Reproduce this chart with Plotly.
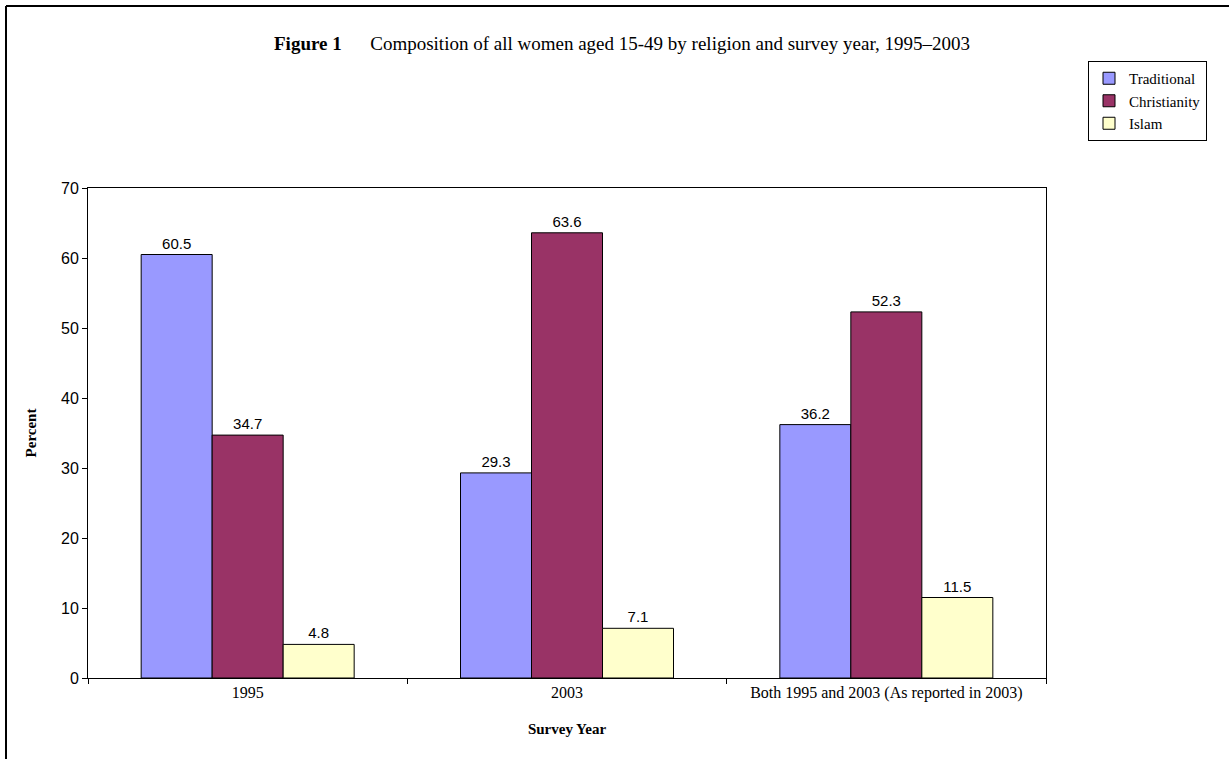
import plotly.graph_objects as go

categories = ["1995", "2003", "Both 1995 and 2003 (As reported in 2003)"]
traditional = [60.5, 29.3, 36.2]
christianity = [34.7, 63.6, 52.3]
islam = [4.8, 7.1, 11.5]
series_names = ["Traditional", "Christianity", "Islam"]
colors = ["#9999FF", "#993366", "#FFFFCC"]

W, H = 1229, 759
L, R, T, B = 88, 1046, 188, 678

def px(x):
    return (x - L) / (R - L)

def py(y):
    return (B - y) / (B - T)

fig = go.Figure()
for name, vals, col in zip(series_names, [traditional, christianity, islam], colors):
    fig.add_trace(go.Bar(
        name=name, x=categories, y=vals,
        marker=dict(color=col, line=dict(color="black", width=1)),
        text=[f"{v:.1f}" for v in vals], textposition="outside",
        textfont=dict(family="Arial", size=15, color="black"),
        cliponaxis=False,
    ))

fig.update_layout(
    width=W, height=H,
    margin=dict(l=L, r=W - R, t=T, b=H - B),
    paper_bgcolor="white", plot_bgcolor="white",
    barmode="group", bargap=0.333, bargroupgap=0,
    showlegend=True,
    legend=dict(
        x=px(1088), y=py(61), xanchor="left", yanchor="top",
        bordercolor="black", borderwidth=1, bgcolor="white",
        font=dict(family="Liberation Serif", size=15, color="black"),
        itemwidth=30, tracegroupgap=0,
    ),
    font=dict(family="Arial", color="black"),
    xaxis=dict(
        showline=True, linecolor="black", linewidth=1, mirror=True,
        ticks="outside", ticklen=5, tickcolor="black", tickson="boundaries",
        tickfont=dict(family="Liberation Serif", size=16, color="black"),
        title=dict(text="<b>Survey Year</b>", font=dict(family="Liberation Serif", size=15, color="black"), standoff=22),
        showgrid=False,
    ),
    yaxis=dict(
        range=[0, 70], dtick=10,
        showline=True, linecolor="black", linewidth=1, mirror=True,
        ticks="outside", ticklen=5, tickcolor="black",
        tickfont=dict(family="Arial", size=16, color="black"),
        title=dict(text="<b>Percent</b>", font=dict(family="Liberation Serif", size=15, color="black"), standoff=20),
        showgrid=False, zeroline=False,
    ),
    annotations=[dict(
        text="<b>Figure 1</b>      Composition of all women aged 15-49 by religion and survey year, 1995\u20132003",
        x=px(622), y=py(43), xref="paper", yref="paper", showarrow=False,
        xanchor="center", yanchor="middle",
        font=dict(family="Liberation Serif", size=19, color="black"),
    )],
    shapes=[
        dict(type="line", xref="paper", yref="paper", x0=px(6), x1=px(1229), y0=py(6), y1=py(6),
             line=dict(color="black", width=2)),
        dict(type="line", xref="paper", yref="paper", x0=px(6), x1=px(6), y0=py(6), y1=py(759),
             line=dict(color="black", width=2)),
    ],
)

fig.write_html("out.html")
